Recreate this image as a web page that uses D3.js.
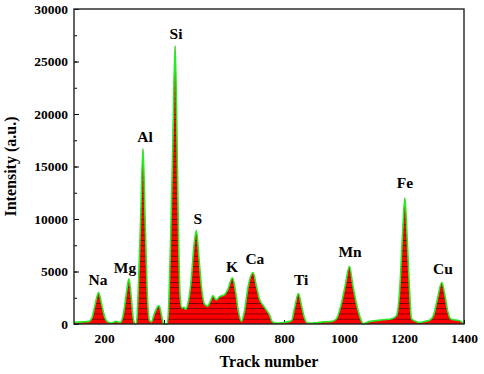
<!DOCTYPE html>
<html>
<head>
<meta charset="utf-8">
<script src="https://cdn.jsdelivr.net/npm/d3@7"></script>
<style>
  body { margin: 0; background: #fff; }
  svg text { font-family: "Liberation Serif", "Times New Roman", serif; font-weight: bold; fill: #000; }
</style>
</head>
<body>
<svg id="chart" width="484" height="374"></svg>
<script>
// spectrum (track number, intensity)
var track = [100,130,150,160,170,182,192,202,212,225,240,255,265,275,283,290,297,302,308,314,322,330,337,345,352,358,368,383,392,398,411,416,422,430,437,442,448,454,460,466,472,480,490,500,508,516,525,535,545,555,563,574,585,602,613,628,638,648,658,668,680,697,708,719,730,742,752,760,770,800,825,835,848,858,868,878,900,930,960,975,990,1005,1018,1030,1045,1058,1065,1075,1100,1130,1160,1175,1185,1195,1203,1210,1218,1225,1235,1250,1270,1285,1298,1310,1326,1336,1346,1355,1365,1380,1392,1400];
var intensity = [150,200,250,600,1800,3000,1900,700,200,100,250,150,1000,3000,4300,2800,600,0,0,3000,10000,16700,10000,2500,300,200,1000,1750,800,0,0,2000,8000,18000,26500,20000,9000,2500,1500,1600,1400,2000,4000,7500,8900,6500,3500,1900,1700,2200,2700,2300,2600,2800,3300,4400,3200,1200,250,1200,3500,4900,3600,2300,1800,1300,850,250,100,150,300,1500,2900,1800,600,100,100,200,250,500,1800,3800,5500,3600,1500,300,0,150,300,400,500,800,3000,8500,12000,8500,3500,500,300,150,250,350,800,2200,3950,2800,1200,500,400,350,200,0];

// element labels
var elements = ["Na","Mg","Al","Si","S","K","Ca","Ti","Mn","Fe","Cu"];
var labelTrack = [180,270,337,440,513,627,703,857,1020,1203,1330];
var labelValue = [3700,4860,17330,27140,9520,4950,5710,3710,6380,12950,4760];

var xTicks = [200,400,600,800,1000,1200,1400];
var yTicks = [0,5000,10000,15000,20000,25000,30000];

var margin = {top: 9, right: 20, bottom: 50, left: 74};
var width = 484 - margin.left - margin.right;
var height = 374 - margin.top - margin.bottom;

var serif = '"Liberation Serif", "Times New Roman", serif';

var svg = d3.select("#chart");
var g = svg.append("g").attr("transform", "translate(" + margin.left + "," + margin.top + ")");

var x = d3.scaleLinear().domain([100, 1400]).range([0, width]);
var y = d3.scaleLinear().domain([0, 30000]).range([height, 0]);

var data = track.map(function(t, i) { return {t: t, v: intensity[i]}; });

// horizontal hatch inside the fill
var step = y(0) - y(500);
var defs = svg.append("defs");
var pat = defs.append("pattern")
    .attr("id", "hatch")
    .attr("patternUnits", "userSpaceOnUse")
    .attr("width", 8)
    .attr("height", step)
    .attr("y", y(0) % step);
pat.append("rect").attr("width", 8).attr("height", step).attr("fill", "#ff0000");
pat.append("line")
    .attr("x1", 0).attr("x2", 8)
    .attr("y1", 0.4).attr("y2", 0.4)
    .attr("stroke", "#3a0000").attr("stroke-width", 0.7);

function styleTicks(s) {
    s.attr("font-family", serif);
    s.select(".domain").remove();
    s.selectAll("text")
        .style("font-family", serif)
        .style("font-weight", "bold")
        .style("font-size", "13.5px")
        .attr("fill", "#000");
}

// minor + major ticks, inward
g.append("g")
    .attr("transform", "translate(0," + height + ")")
    .call(d3.axisBottom(x).tickValues(d3.range(100, 1401, 100)).tickSize(-2).tickFormat(""))
    .call(function(s) { s.select(".domain").remove(); });
g.append("g")
    .attr("transform", "translate(0," + height + ")")
    .call(d3.axisBottom(x).tickValues(xTicks).tickSize(-4).tickPadding(9).tickFormat(d3.format("d")))
    .call(styleTicks);
g.append("g")
    .call(d3.axisLeft(y).tickValues(d3.range(0, 30001, 2500)).tickSize(-3).tickFormat(""))
    .call(function(s) { s.select(".domain").remove(); });
g.append("g")
    .call(d3.axisLeft(y).tickValues(yTicks).tickSize(-5).tickPadding(6).tickFormat(d3.format("d")))
    .call(styleTicks)
    .call(function(s) { s.selectAll("text").attr("x", -6); });

// spectrum
var area = d3.area()
    .x(function(d) { return x(d.t); })
    .y0(y(0))
    .y1(function(d) { return y(d.v); })
    .curve(d3.curveMonotoneX);
var line = d3.line()
    .x(function(d) { return x(d.t); })
    .y(function(d) { return y(d.v); })
    .curve(d3.curveMonotoneX);

g.append("path").datum(data).attr("d", area).attr("fill", "url(#hatch)");
g.append("path").datum(data).attr("d", line)
    .attr("fill", "none").attr("stroke", "#22ee22").attr("stroke-width", 1.6);

// frame
g.append("rect")
    .attr("width", width).attr("height", height)
    .attr("fill", "none").attr("stroke", "#222").attr("stroke-width", 1.4);

// element labels
g.selectAll(".elem")
    .data(elements)
    .enter().append("text")
    .attr("class", "elem")
    .attr("x", function(d, i) { return x(labelTrack[i]); })
    .attr("y", function(d, i) { return y(labelValue[i]); })
    .attr("text-anchor", "middle")
    .style("font-size", "15.5px")
    .text(function(d) { return d; });

// axis titles
svg.append("text")
    .attr("x", margin.left + width / 2)
    .attr("y", 367)
    .attr("text-anchor", "middle")
    .style("font-size", "16px")
    .text("Track number");
svg.append("text")
    .attr("transform", "translate(16," + (margin.top + height / 2) + ") rotate(-90)")
    .attr("text-anchor", "middle")
    .style("font-size", "16px")
    .text("Intensity (a.u.)");
</script>
</body>
</html>
